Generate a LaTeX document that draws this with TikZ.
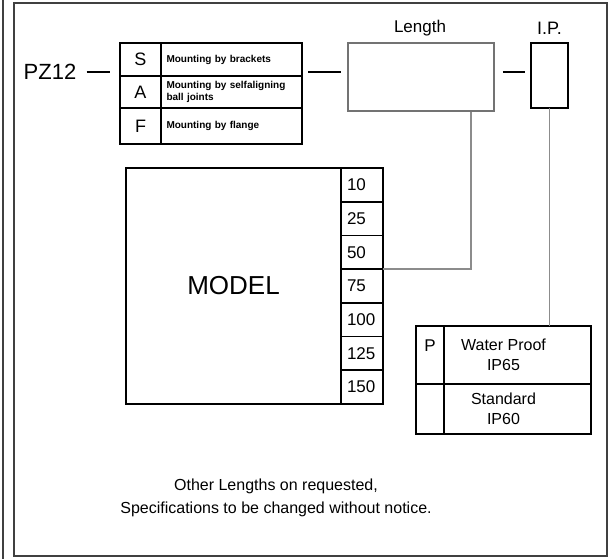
\documentclass[tikz,border=0pt]{standalone}
\usepackage{fontspec}
\setmainfont{Liberation Sans}
\usetikzlibrary{calc}

\begin{document}
\begin{tikzpicture}[x=1pt, y=-1pt, line width=1.8pt,
  cellbox/.style={draw, inner sep=0pt, outer sep=0pt},
  keycell/.style={cellbox, minimum width=41, font=\fontsize{18}{20}\selectfont},
  desccell/.style={cellbox, minimum width=141, text width=130, align=left, font=\fontsize{10}{12}\selectfont\bfseries},
  numcell/.style={cellbox, minimum width=42, minimum height=33.71, text width=30, align=left, font=\fontsize{17}{20}\selectfont},
  iprow/.style={cellbox, minimum width=175, align=center, font=\fontsize{16}{20}\selectfont},
  wire/.style={draw=black!45, line width=1.8pt},
  every node/.style={font=\fontsize{17}{20}\selectfont}]
  \useasboundingbox (0,0) rectangle (610,559);
  \draw[black!75, line width=2pt] (2.5,0) -- (2.5,559);
  \draw[black!75, line width=2pt] (14,3) rectangle (607,556);
  % code and mounting options
  \node[font=\fontsize{22}{24}\selectfont] (pz) at (50,72) {PZ12};
  \node[keycell, minimum height=33] (ms) at (140.5,59.5) {S};
  \node[keycell, minimum height=32] (ma) at (140.5,92) {A};
  \node[keycell, minimum height=36] (mf) at (140.5,126) {F};
  \node[desccell, minimum height=33] (ds) at (231.5,59.5) {Mounting by brackets};
  \node[desccell, minimum height=32] (da) at (231.5,92) {Mounting by selfaligning\\ball joints};
  \node[desccell, minimum height=36] (df) at (231.5,126) {Mounting by flange};
  % length and protection boxes
  \node[draw=black!55, minimum width=146, minimum height=68, inner sep=0pt] (len) at (421,77) {};
  \node (lenlbl) at (420,28) {Length};
  \node[cellbox, minimum width=37, minimum height=65] (ip) at (549.5,75.5) {};
  \node[font=\fontsize{18}{20}\selectfont] (iplbl) at (549.5,28) {I.P.};
  \draw[shorten <=6pt, shorten >=10pt] (pz.east) -- (pz.east -| ms.west);
  \draw ($(ds.east |- pz)+(6,0)$) -- ($(len.west |- pz)+(-6,0)$);
  \draw ($(len.east |- pz)+(8,0)$) -- ($(ip.west |- pz)+(-6,0)$);
  % model with lengths
  \node[cellbox, minimum width=215, minimum height=236, font=\fontsize{26}{28}\selectfont] (model) at (233.5,286) {MODEL};
  \foreach \n [count=\i] in {10,25,50,75,100,125,150}
    \node[numcell] (n\n) at (362,{168+33.71*(\i-0.5)}) {\n};
  % protection table
  \node[iprow, minimum height=58] (wp) at (503.5,355) {Water Proof\\IP65};
  \node[iprow, minimum height=50] (st) at (503.5,409) {Standard\\IP60};
  \node[cellbox, minimum width=28, minimum height=58, anchor=north west,
    label={[anchor=north, inner sep=0pt, yshift=-13pt, font=\fontsize{17}{20}\selectfont]north:P}] (pc) at (wp.north west) {};
  \node[cellbox, minimum width=28, minimum height=50, anchor=north west] (bc) at (st.north west) {};
  \draw[wire] ($(len.south east)+(-24,0)$) |- (n50.south east);
  \draw[wire] (ip.south) -- (ip.south |- wp.north);
  % notes
  \node[align=center, font=\fontsize{16}{23}\selectfont] (note) at (276,498) {Other Lengths on requested,\\Specifications to be changed without notice.};
\end{tikzpicture}
\end{document}
